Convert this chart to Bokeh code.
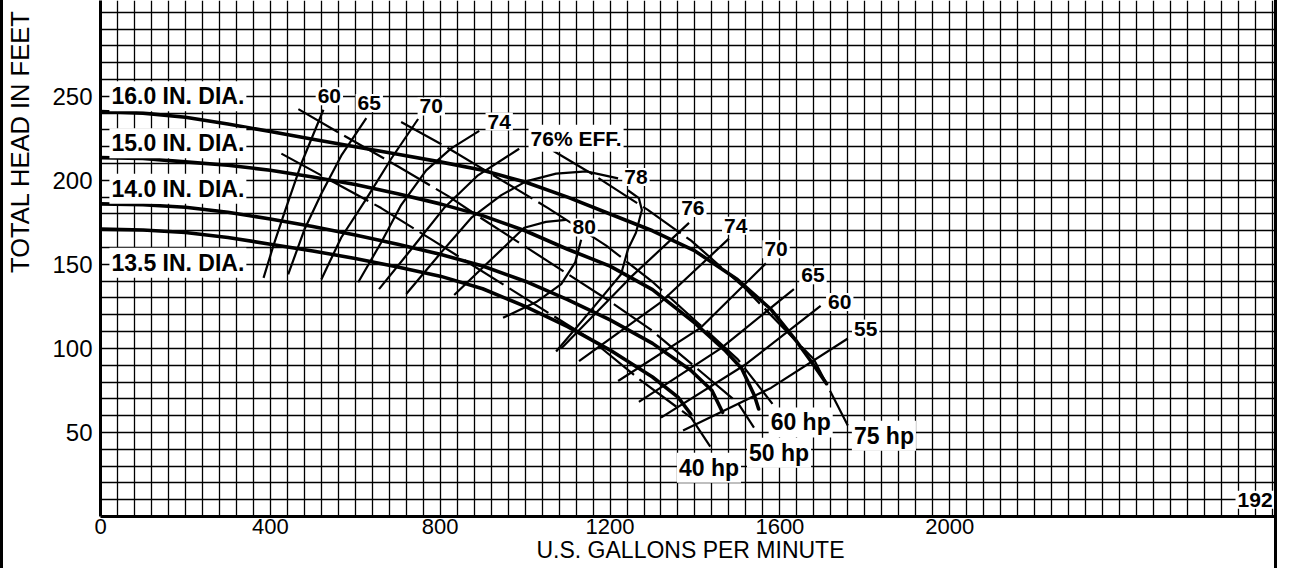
from bokeh.plotting import figure
from bokeh.models import Range1d, FixedTicker, Label
from bokeh.embed import file_html
from bokeh.resources import INLINE

# ---------------- data ----------------
# Head-capacity curves: flow (US gpm) and total head (ft)
q_160 = [0, 100, 200, 300, 400, 500, 600, 700, 800, 900, 1000, 1100, 1200, 1300, 1400, 1500, 1580, 1640, 1680, 1710]
h_160 = [241, 240, 237.5, 233.5, 229, 224.5, 220, 215.5, 211, 206, 199, 190, 180, 170, 158, 141, 123, 104, 90, 79]
q_150 = [0, 100, 200, 300, 400, 500, 600, 700, 800, 900, 1000, 1100, 1200, 1300, 1400, 1470, 1510, 1540, 1550]
h_150 = [213.5, 213, 211, 209, 206, 202, 197.5, 192, 186, 179, 170, 159, 149, 135, 115, 99, 88, 72, 64]
q_140 = [0, 100, 200, 300, 400, 500, 600, 700, 800, 900, 1000, 1100, 1200, 1300, 1390, 1440, 1465]
h_140 = [186, 185.5, 184, 181, 177, 172.5, 167.5, 162, 156, 149, 140, 129, 117, 103, 87, 75, 62]
q_135 = [0, 100, 200, 300, 400, 500, 600, 700, 800, 900, 1000, 1100, 1200, 1300, 1360, 1390]
h_135 = [171, 170.5, 169, 166, 162, 158, 153.5, 148.5, 143, 135.5, 125, 113, 99, 83, 71, 61]

# Efficiency contours (left branches)
q_e60 = [384, 407, 433, 473, 525]
h_e60 = [142, 161, 180.6, 210, 242]
q_e65 = [442, 480, 520, 567, 626]
h_e65 = [144, 170.6, 192, 214.7, 237]
q_e70 = [520, 567, 626, 685, 748]
h_e70 = [141, 166, 189, 213, 236.5]
q_e74 = [607, 661, 708, 767, 826, 892]
h_e74 = [139.4, 163, 185.3, 205.9, 219, 229.4]
q_e76 = [656, 739, 809, 889, 986]
h_e76 = [135.3, 161.2, 183.5, 203, 218.8]
q_e78a = [720, 802, 873, 944, 1002, 1073, 1144, 1219]
h_e78a = [132.4, 157, 177.6, 191.2, 199.4, 204, 205.3, 201.2]
q_e78b = [1242, 1268, 1275, 1261, 1242, 1226, 1162, 1073]
h_e78b = [194.1, 189.4, 182.4, 168.8, 158.8, 144.1, 124.7, 98.2]
q_e80a = [833, 920, 998, 1049, 1096]
h_e80a = [131.8, 152.9, 171.8, 175.3, 176.5]
q_e80b = [1132, 1118, 1085, 1026, 948]
h_e80b = [164.7, 151.2, 138.2, 127.6, 118.2]
# Efficiency contours (right branches)
q_r76 = [1386, 1249, 1085]
h_r76 = [174.7, 142.4, 100]
q_r74 = [1480, 1320, 1127]
h_r74 = [165.3, 127.6, 92.4]
q_r70 = [1567, 1414, 1219]
h_r70 = [150.6, 112.4, 80.6]
q_r65 = [1633, 1461, 1268]
h_r65 = [135.3, 100, 68.2]
q_r60 = [1696, 1520, 1320]
h_r60 = [125.3, 90.6, 58.8]
q_r55 = [1760, 1579, 1372]
h_r55 = [105.9, 76.5, 51.2]

# Brake horsepower lines
q_hp40 = [426, 661, 784, 1155, 1268, 1391, 1445]
h_hp40 = [215.9, 183.5, 164.1, 105.3, 81.8, 58.8, 38.2]
q_hp50 = [466, 574, 701, 819, 896, 1195, 1296, 1407, 1501, 1539]
h_hp50 = [242.4, 226.5, 208.2, 190.6, 177.6, 128.8, 111.2, 87.6, 67.6, 52.9]
q_hp60 = [708, 809, 1054, 1191, 1301, 1409, 1501, 1586]
h_hp60 = [234.7, 220.6, 183.5, 161.2, 139.4, 114.7, 93.5, 65.9]
q_hp75 = [1066, 1148, 1289, 1391, 1515, 1680, 1760]
h_hp75 = [217.6, 205.3, 182.4, 164.1, 136.5, 93.5, 54.1]

# Labels
dia_text = ["16.0 IN. DIA.", "15.0 IN. DIA.", "14.0 IN. DIA.", "13.5 IN. DIA."]
dia_q = [21, 21, 21, 21]
dia_h = [250, 222, 195, 151]
eff_text = ["60", "65", "70", "74", "76% EFF.", "78", "80", "76", "74", "70", "65", "60", "55"]
eff_q = [539, 633, 779, 939, 1120, 1261, 1139, 1395, 1496, 1591, 1678, 1741, 1802]
eff_h = [250, 246, 244, 235, 225, 202, 172, 183.5, 173, 159, 143.5, 127.6, 111.8]
hp_text = ["60 hp", "75 hp", "50 hp", "40 hp"]
hp_q = [1649, 1845, 1598, 1433]
hp_h = [56, 48, 38, 29]
curve_no = "192"
curve_no_q = 2765
curve_no_h = 10

x_ticks = [0, 400, 800, 1200, 1600, 2000]
y_ticks = [50, 100, 150, 200, 250]
x_title = "U.S. GALLONS PER MINUTE"
y_title = "TOTAL HEAD IN FEET"

# ---------------- figure ----------------
X_MAX = 2779
Y_MAX = 307
p = figure(width=1277, height=568, output_backend="svg", toolbar_location=None,
           x_range=Range1d(0, X_MAX), y_range=Range1d(0, Y_MAX),
           min_border_left=96, min_border_right=0, min_border_top=0, min_border_bottom=52)
p.styles = {"border-left": "3px solid black", "border-right": "3px solid black"}
p.outline_line_color = None
p.background_fill_color = "white"
p.border_fill_color = "white"

p.xgrid.ticker = FixedTicker(ticks=list(range(40, X_MAX, 40)))
p.ygrid.ticker = FixedTicker(ticks=list(range(10, Y_MAX, 10)))
for g in (p.xgrid, p.ygrid):
    g.grid_line_color = "black"
    g.grid_line_alpha = 1.0
p.xgrid.grid_line_width = 1.3
p.ygrid.grid_line_width = 1.5

p.xaxis.ticker = FixedTicker(ticks=x_ticks)
p.yaxis.ticker = FixedTicker(ticks=y_ticks)
for ax in (p.xaxis, p.yaxis):
    ax.axis_line_color = "black"
    ax.axis_line_width = 3
    ax.major_tick_line_color = None
    ax.minor_tick_line_color = None
    ax.major_tick_out = 0
    ax.major_tick_in = 0
    ax.major_label_text_font = "Liberation Sans"
    ax.major_label_text_color = "black"
    ax.axis_label_text_font = "Liberation Sans"
    ax.axis_label_text_font_style = "normal"
    ax.axis_label_text_color = "black"
p.yaxis.major_label_text_font_size = "24px"
p.yaxis.major_label_standoff = 8
p.xaxis.major_label_text_font_size = "22px"
p.xaxis.major_label_standoff = 2
p.xaxis.axis_label = x_title
p.xaxis.axis_label_standoff = 0
p.xaxis.axis_label_text_font_size = "23px"
# the original's y title sits high on the left edge: lead it with no-break spaces
p.yaxis.axis_label = "\u00a0" * 33 + y_title
p.yaxis.axis_label_standoff = 15
p.yaxis.axis_label_text_font_size = "25.5px"

# head curves
for q, h in [(q_160, h_160), (q_150, h_150), (q_140, h_140), (q_135, h_135)]:
    p.line(q, h, line_width=3.6, line_color="black", line_join="round", line_cap="round")

# efficiency contours
for q, h in [(q_e60, h_e60), (q_e65, h_e65), (q_e70, h_e70), (q_e74, h_e74), (q_e76, h_e76),
             (q_e78a, h_e78a), (q_e78b, h_e78b), (q_e80a, h_e80a), (q_e80b, h_e80b),
             (q_r76, h_r76), (q_r74, h_r74), (q_r70, h_r70), (q_r65, h_r65), (q_r60, h_r60), (q_r55, h_r55)]:
    p.line(q, h, line_width=2.2, line_color="black", line_join="round")

# horsepower lines
for q, h in [(q_hp40, h_hp40), (q_hp50, h_hp50), (q_hp60, h_hp60), (q_hp75, h_hp75)]:
    p.line(q, h, line_width=2.2, line_color="black", line_dash="46 7", line_join="round")


def add_label(x, y, text, size, align="center"):
    p.add_layout(Label(x=x, y=y, text=text, text_font="Liberation Sans",
                       text_font_style="bold", text_font_size=size, text_color="black",
                       text_align=align, text_baseline="middle",
                       background_fill_color="white", padding=2))


for t, x, y in zip(dia_text, dia_q, dia_h):
    add_label(x, y, t, "23px", align="left")
for t, x, y in zip(eff_text, eff_q, eff_h):
    add_label(x, y, t, "21px")
for t, x, y in zip(hp_text, hp_q, hp_h):
    add_label(x, y, t, "23px")
add_label(curve_no_q, curve_no_h, curve_no, "21px", align="right")

open("out.html", "w").write(file_html(p, INLINE))
